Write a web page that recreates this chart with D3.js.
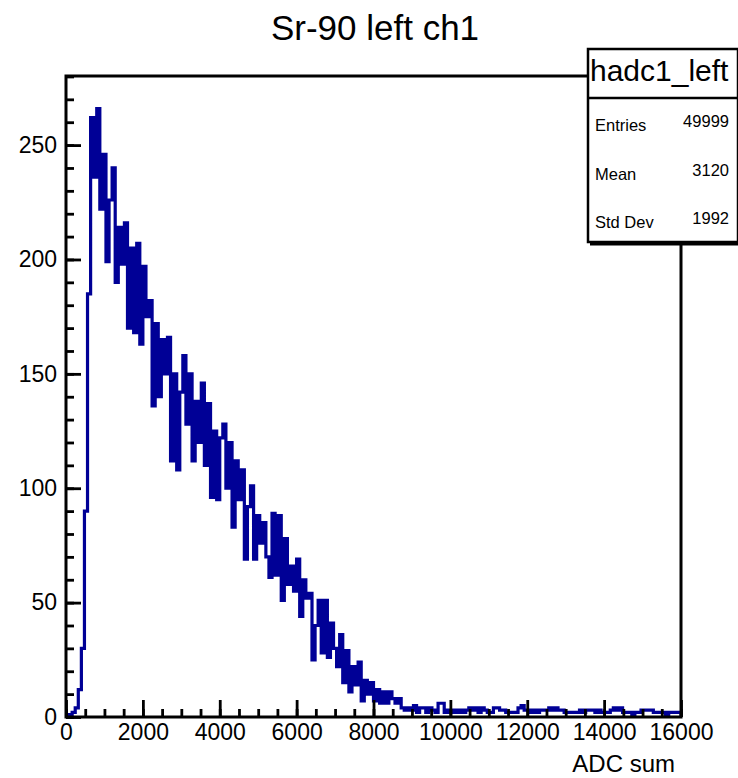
<!DOCTYPE html>
<html>
<head>
<meta charset="utf-8">
<script src="https://cdn.jsdelivr.net/npm/d3@7"></script>
<style>
body { margin: 0; background: white; }
svg { display: block; font-family: "Liberation Sans", Arial, Helvetica, sans-serif; }
</style>
</head>
<body>
<svg id="chart" width="738" height="778"></svg>
<script>

// histogram hadc1_left : 200 bins of 80 ADC, 0 -> 16000
let x_range = [0, 16000]

let counts = [
1,1,2,4,12,30,90,185,262,236,
266,222,246,199,226,240,190,214,198,216,
170,205,168,207,163,197,175,182,136,172,
140,165,150,166,112,150,108,142,158,128,
150,112,138,120,146,110,137,96,125,95,
122,128,100,120,83,112,95,108,69,92,
101,69,88,76,85,70,61,89,62,88,
51,78,58,66,55,69,44,60,52,54,
25,40,51,28,51,26,41,30,22,36,
15,29,11,22,14,24,7,16,10,15,
7,12,6,11,6,11,8,6,8,4,
3,4,3,5,2,4,4,2,4,3,
2,6,6,2,3,2,3,2,3,2,
3,4,3,4,2,4,3,2,2,4,
4,3,3,2,2,2,2,4,5,3,
3,2,3,2,3,3,3,4,3,4,
3,3,2,2,2,2,2,3,2,3,
3,3,2,3,2,2,2,3,4,3,
4,2,2,2,1,2,2,3,3,3,
3,2,2,2,2,1,2,2,2,2
]

let x_major = [0,2000,4000,6000,8000,10000,12000,14000,16000]
let x_minor = d3.range(0, 16001, 500)
let y_major = [0,50,100,150,200,250]
let y_minor = d3.range(0, 281, 10)

let title_text = "Sr-90 left ch1"
let x_title = "ADC sum"
let hist_name = "hadc1_left"
let stat_names = ["Entries", "Mean", "Std Dev"]
let stat_values = ["49999", "3120", "1992"]


let svg = d3.select('#chart')

let f_left = 66, f_right = 681, f_top = 76, f_bottom = 717

let x = d3.scaleLinear()
.domain(x_range)
.range([f_left, f_right])

let y = d3.scaleLinear()
.domain([0, 280.2])
.range([f_bottom, f_top])

let bin_w = (x_range[1] - x_range[0]) / counts.length


// clip for the histogram
svg.append('defs')
.append('clipPath')
.attr('id', 'frame_clip')
.append('rect')
.attr('x', f_left)
.attr('y', f_top)
.attr('width', f_right - f_left)
.attr('height', f_bottom - f_top)


// histogram outline
let pts = [[x_range[0], 0]]
counts.forEach((c, i) => {
  pts.push([x_range[0] + i * bin_w, c])
  pts.push([x_range[0] + (i + 1) * bin_w, c])
})
pts.push([x_range[1], 0])

let line = d3.line()
.x(d => x(d[0]))
.y(d => y(d[1]))

svg.append('path')
.attr('clip-path', 'url(#frame_clip)')
.attr('d', line(pts))
.attr('fill', 'none')
.attr('stroke', '#000096')
.attr('stroke-width', 3.2)
.attr('stroke-linejoin', 'miter')


// axes (ticks inside frame)
function style_axis(g){
  g.select('.domain').remove()
  g.selectAll('line').attr('stroke', 'black').attr('stroke-width', 2.8)
  g.selectAll('text').attr('fill', 'black').style('font-size', '23px')
  .style('font-family', '"Liberation Sans", Arial, Helvetica, sans-serif')
}

svg.append('g')
.attr('transform', `translate(${f_left},0)`)
.call(d3.axisLeft(y).tickValues(y_minor).tickSizeInner(-8).tickSizeOuter(0).tickFormat(''))
.call(style_axis)

svg.append('g')
.attr('transform', `translate(${f_left},0)`)
.call(d3.axisLeft(y).tickValues(y_major).tickSizeInner(-15).tickSizeOuter(0).tickPadding(9).tickFormat(d3.format('d')))
.call(style_axis)

svg.append('g')
.attr('transform', `translate(0,${f_bottom})`)
.call(d3.axisBottom(x).tickValues(x_minor).tickSizeInner(-8).tickSizeOuter(0).tickFormat(''))
.call(style_axis)

svg.append('g')
.attr('transform', `translate(0,${f_bottom})`)
.call(d3.axisBottom(x).tickValues(x_major).tickSizeInner(-17).tickSizeOuter(0).tickPadding(7).tickFormat(d3.format('d')))
.call(style_axis)


// frame
svg.append('rect')
.attr('x', f_left)
.attr('y', f_top)
.attr('width', f_right - f_left)
.attr('height', f_bottom - f_top)
.attr('fill', 'none')
.attr('stroke', 'black')
.attr('stroke-width', 3)


// axis title
svg.append('text')
.attr('x', 675)
.attr('y', 772)
.attr('text-anchor', 'end')
.style('font-size', '24px')
.text(x_title)


// title
svg.append('text')
.attr('x', 375)
.attr('y', 40)
.attr('text-anchor', 'middle')
.style('font-size', '35px')
.text(title_text)


// stats box
let box_x = 588, box_y = 49, box_w = 150, box_h = 193

svg.append('rect')
.attr('x', box_x + 2)
.attr('y', box_y + 2)
.attr('width', box_w)
.attr('height', box_h + 1.5)
.attr('fill', 'black')

svg.append('rect')
.attr('x', box_x)
.attr('y', box_y)
.attr('width', box_w)
.attr('height', box_h)
.attr('fill', 'white')
.attr('stroke', 'black')
.attr('stroke-width', 2.5)

svg.append('line')
.attr('x1', box_x)
.attr('x2', box_x + box_w)
.attr('y1', 98)
.attr('y2', 98)
.attr('stroke', 'black')
.attr('stroke-width', 2.5)

svg.append('text')
.attr('x', 590)
.attr('y', 81)
.style('font-size', '30px')
.text(hist_name)

let stat_y = d3.scalePoint()
.domain(stat_names)
.range([131, 228])

svg.selectAll('.stat_name')
.data(stat_names)
.enter()
.append('text')
.attr('class', 'stat_name')
.attr('x', 595)
.attr('y', d => stat_y(d))
.style('font-size', '16.5px')
.text(d => d)

svg.selectAll('.stat_value')
.data(stat_values)
.enter()
.append('text')
.attr('class', 'stat_value')
.attr('x', 729)
.attr('y', (d, i) => stat_y(stat_names[i]) - 4)
.attr('text-anchor', 'end')
.style('font-size', '16.5px')
.text(d => d)

</script>
</body>
</html>
